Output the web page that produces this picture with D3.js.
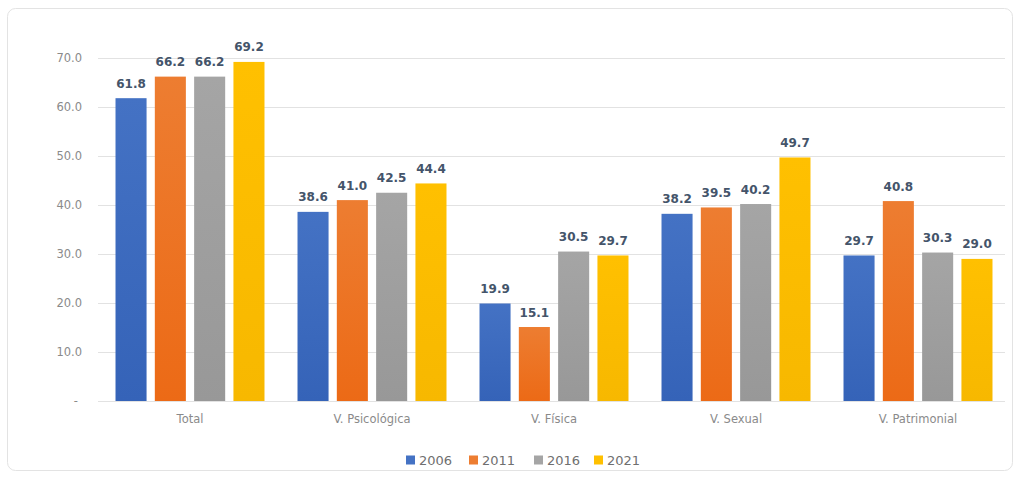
<!DOCTYPE html>
<html>
<head>
<meta charset="utf-8">
<script src="https://d3js.org/d3.v7.min.js"></script>
<style>
  body { margin: 0; background: #fff; }
  svg text { font-family: "DejaVu Sans", "Liberation Sans", sans-serif; }
</style>
</head>
<body>
<svg id="chart" width="1021" height="478"></svg>
<script>
// data
var categories = ["Total", "V. Psicológica", "V. Física", "V. Sexual", "V. Patrimonial"];
var years = ["2006", "2011", "2016", "2021"];
var v2006 = [61.8, 38.6, 19.9, 38.2, 29.7];
var v2011 = [66.2, 41.0, 15.1, 39.5, 40.8];
var v2016 = [66.2, 42.5, 30.5, 40.2, 30.3];
var v2021 = [69.2, 44.4, 29.7, 49.7, 29.0];
var yTicks = [0, 10, 20, 30, 40, 50, 60, 70];

var series = [v2006, v2011, v2016, v2021];
var colors = ["#4472C4", "#ED7D31", "#A5A5A5", "#FFC000"];
var darker = ["#3563b8", "#ec6a16", "#989898", "#f7b800"];

var svg = d3.select("#chart");

// outer frame
svg.append("rect")
  .attr("x", 7.5).attr("y", 8.5)
  .attr("width", 1005).attr("height", 462)
  .attr("rx", 8)
  .attr("fill", "#fff")
  .attr("stroke", "#e3e3e3");

var defs = svg.append("defs");
colors.forEach(function(c, i) {
  var g = defs.append("linearGradient")
    .attr("id", "grad" + i)
    .attr("x1", "0").attr("y1", "0").attr("x2", "0").attr("y2", "1");
  g.append("stop").attr("offset", "0%").attr("stop-color", c);
  g.append("stop").attr("offset", "100%").attr("stop-color", darker[i]);
});

var plotLeft = 98, plotRight = 1005, plotTop = 58, plotBottom = 401;

var y = d3.scaleLinear().domain([0, 70]).range([plotBottom, plotTop]);

var x0 = d3.scaleBand()
  .domain(categories)
  .range([99, 1009]);

var x1 = d3.scaleBand()
  .domain(years)
  .range([0, x0.bandwidth()])
  .paddingInner(0.21)
  .paddingOuter(0.42);

// gridlines
svg.append("g")
  .selectAll("line")
  .data(yTicks)
  .enter().append("line")
  .attr("x1", plotLeft).attr("x2", plotRight)
  .attr("y1", function(d) { return y(d) + 0.5; })
  .attr("y2", function(d) { return y(d) + 0.5; })
  .attr("stroke", "#e2e2e2")
  .attr("stroke-width", 1);

// y axis labels
var yAxis = d3.axisLeft(y)
  .tickValues(yTicks)
  .tickSize(0)
  .tickPadding(0)
  .tickFormat(function(d) { return d === 0 ? "-" : d3.format(".1f")(d); });

var ya = svg.append("g")
  .attr("transform", "translate(82,0)")
  .call(yAxis);
ya.select(".domain").remove();
ya.selectAll("text")
  .attr("fill", "#8a8a8a")
  .style("font-size", "11.5px")
  .attr("dx", function(d) { return d === 0 ? "-4" : "0"; });

// x axis labels
var xAxis = d3.axisBottom(x0).tickSize(0).tickPadding(14);
var xa = svg.append("g")
  .attr("transform", "translate(0," + plotBottom + ")")
  .call(xAxis);
xa.select(".domain").remove();
xa.selectAll("text")
  .attr("fill", "#8a8a8a")
  .style("font-size", "11.5px");

// bars
var groups = svg.append("g")
  .selectAll("g")
  .data(categories)
  .enter().append("g")
  .attr("transform", function(d) { return "translate(" + x0(d) + ",0)"; });

function rows(d, ci) {
  return years.map(function(yr, si) { return { year: yr, si: si, value: series[si][ci] }; });
}

groups.selectAll("rect")
  .data(rows)
  .enter().append("rect")
  .attr("x", function(d) { return x1(d.year); })
  .attr("width", x1.bandwidth())
  .attr("y", function(d) { return y(d.value); })
  .attr("height", function(d) { return plotBottom - y(d.value); })
  .attr("fill", function(d) { return "url(#grad" + d.si + ")"; });

groups.selectAll("text.val")
  .data(rows)
  .enter().append("text")
  .attr("class", "val")
  .attr("x", function(d) { return x1(d.year) + x1.bandwidth() / 2; })
  .attr("y", function(d) { return y(d.value) - 10.5; })
  .attr("text-anchor", "middle")
  .attr("fill", "#44546A")
  .style("font-size", "12px")
  .style("font-weight", "bold")
  .text(function(d) { return d3.format(".1f")(d.value); });

// legend
var legendX = [406, 469, 534, 594];
var legend = svg.append("g")
  .selectAll("g")
  .data(years)
  .enter().append("g")
  .attr("transform", function(d, i) { return "translate(" + legendX[i] + ",460)"; });
legend.append("rect")
  .attr("x", 0).attr("y", -4.5)
  .attr("width", 9).attr("height", 9)
  .attr("fill", function(d, i) { return colors[i]; });
legend.append("text")
  .attr("x", 13).attr("y", 0)
  .attr("dy", "0.35em")
  .attr("fill", "#6f6f6f")
  .style("font-size", "13px")
  .text(function(d) { return d; });
</script>
</body>
</html>
